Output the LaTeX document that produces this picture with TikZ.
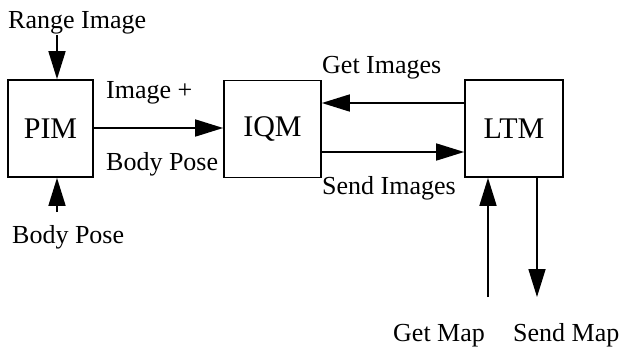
\documentclass[tikz,border=0pt]{standalone}
\usepackage{fontspec}
\setmainfont{Liberation Serif}
\usetikzlibrary{arrows.meta}
\begin{document}
\begin{tikzpicture}[x=1pt,y=-1pt,
  module/.style={draw, line width=1.7pt, minimum height=97pt, inner sep=0pt,
                 font=\fontsize{30}{30}\selectfont},
  lbl/.style={font=\fontsize{26}{26}\selectfont, inner sep=0pt, anchor=base west},
  flow/.style={line width=1.7pt, -{Triangle[length=28pt,width=17pt]}}]
\useasboundingbox (0,0) rectangle (624,351);

% processing modules
\node[module, minimum width=85pt] (pim) at (50.5,128.5) {PIM};
\node[module, minimum width=97pt] (iqm) at (272.5,129) {IQM};
\node[module, minimum width=98pt] (ltm) at (514,128.5) {LTM};

% inputs of PIM
\coordinate (rin) at (57,35);
\coordinate (bin) at (57,212);
\draw[flow] (rin) -- (rin |- pim.north);
\draw[flow] (bin) -- (bin |- pim.south);
\node[lbl] (rlbl) at (8,28) {Range Image};
\node[lbl] (blbl) at (12,243) {Body Pose};

% PIM to IQM
\draw[flow] (pim.east |- 0,128) -- (iqm.west |- 0,128);
\node[lbl] (ilbl) at (106,98) {Image +};
\node[lbl] (plbl) at (106,170) {Body Pose};

% IQM <-> LTM
\draw[flow] (ltm.west |- 0,103) -- (iqm.east |- 0,103);
\draw[flow] (iqm.east |- 0,152) -- (ltm.west |- 0,152);
\node[lbl] (glbl) at (322,73) {Get Images};
\node[lbl] (slbl) at (322,194) {Send Images};

% map requests
\coordinate (gm) at (488,297);
\coordinate (sm) at (537,297);
\draw[flow] (gm) -- (gm |- ltm.south);
\draw[flow] (sm |- ltm.south) -- (sm);
\node[lbl] (gmlbl) at (393,341) {Get Map};
\node[lbl] (smlbl) at (513,341) {Send Map};
\end{tikzpicture}
\end{document}
